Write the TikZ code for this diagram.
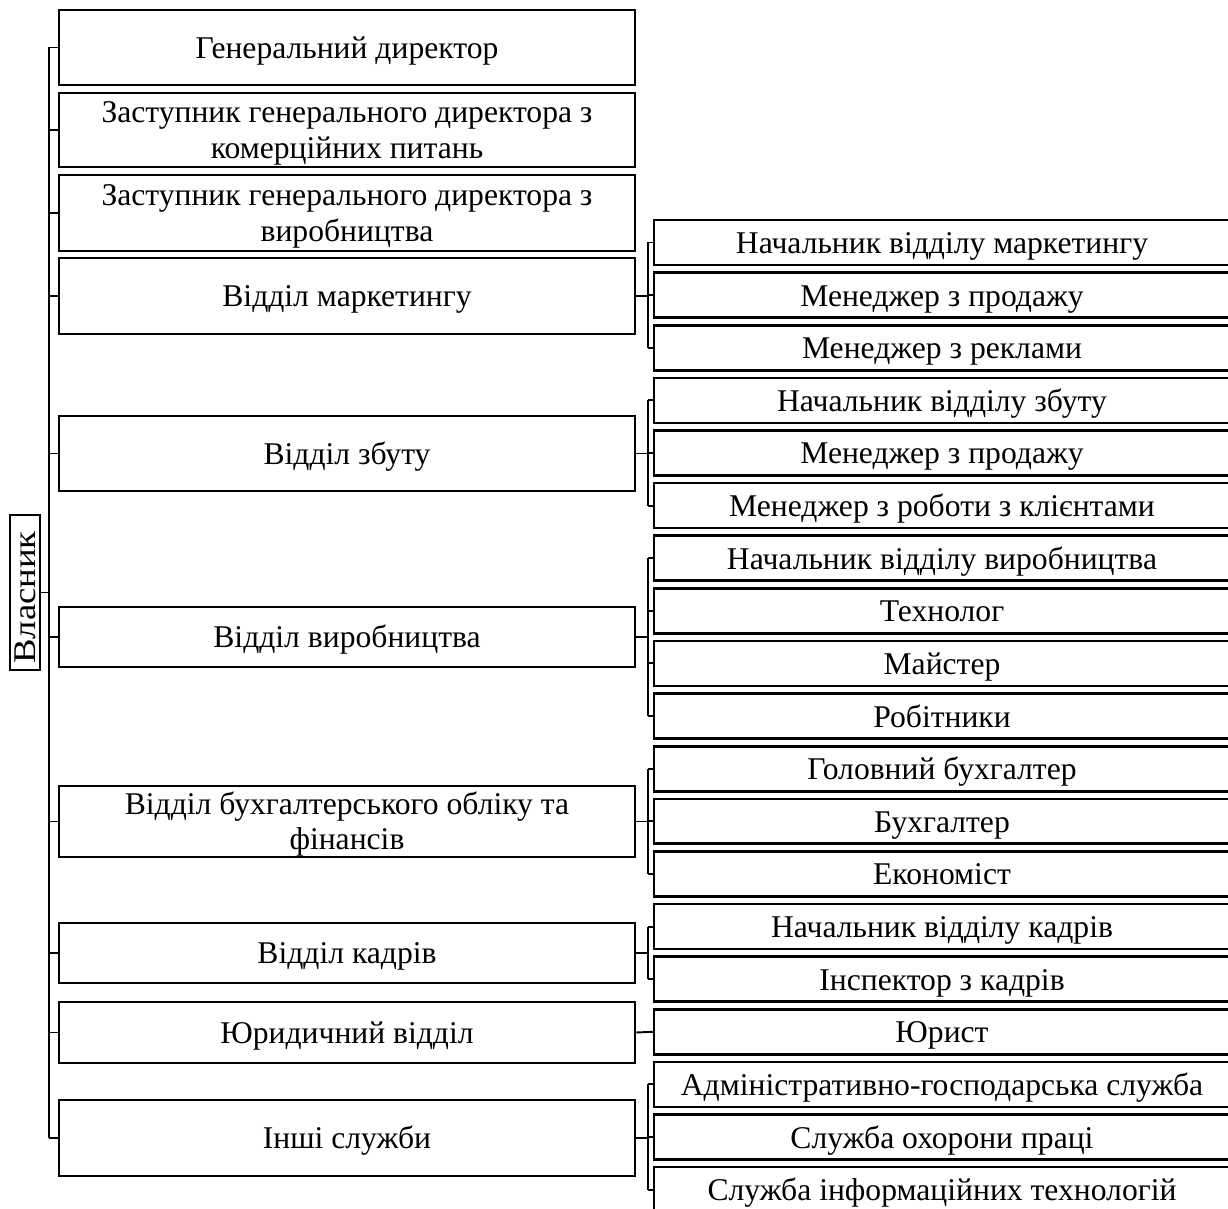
\documentclass[tikz,border=0pt]{standalone}
\usepackage{fontspec}
\setmainfont{Liberation Serif}
\usetikzlibrary{positioning, calc}

\tikzset{
  unit/.style={draw, line width=1.5pt, minimum width=11.52cm, align=center,
    inner sep=2pt, font=\fontsize{18}{20}\selectfont},
  oneline/.style={text height=16.5pt, text depth=4pt},
  twoline/.style={text height=36pt, text depth=4pt, inner ysep=0pt},
  subunit/.style={unit, oneline, minimum height=0.9cm},
  conn/.style={line width=1.1pt},
}

\begin{document}
\begin{tikzpicture}[x=0.02cm, y=-0.02cm]
\useasboundingbox (0,0) rectangle (1228,1209);

% owner
\node[draw, line width=1.2pt, rotate=90, inner sep=1pt, minimum width=3.1cm,
  minimum height=0.6cm, font=\fontsize{18}{20}\selectfont] (vl) at (25,592.5)
  {\hspace*{-0.2cm}\scalebox{1.16}[1]{Власник}};

% top level
\node[unit, oneline, minimum height=1.5cm]  (gd) at (347,47.5)  {Генеральний директор};
\node[unit, twoline, minimum height=1.48cm] (zk) at (347,130)   {Заступник генерального директора з\\комерційних питань};
\node[unit, twoline, minimum height=1.52cm] (zv) at (347,213)   {Заступник генерального директора з\\виробництва};
\node[unit, oneline, minimum height=1.52cm] (dm) at (347,296)   {Відділ маркетингу};
\node[unit, oneline, minimum height=1.5cm]  (dz) at (347,453.5) {Відділ збуту};
\node[unit, oneline, minimum height=1.2cm]  (dv) at (347,637)   {Відділ виробництва};
\node[unit, twoline, minimum height=1.42cm] (db) at (347,821.5) {Відділ бухгалтерського обліку та\\фінансів};
\node[unit, oneline, minimum height=1.2cm]  (dk) at (347,953)   {Відділ кадрів};
\node[unit, oneline, minimum height=1.22cm] (dj) at (347,1032.5) {Юридичний відділ};
\node[unit, oneline, minimum height=1.52cm] (di) at (347,1138)  {Інші служби};

% staff
\foreach \t [count=\i] in {Начальник відділу маркетингу, Менеджер з продажу,
    Менеджер з реклами, Начальник відділу збуту, Менеджер з продажу,
    Менеджер з роботи з клієнтами, Начальник відділу виробництва, Технолог,
    Майстер, Робітники, Головний бухгалтер, Бухгалтер, Економіст,
    Начальник відділу кадрів, Інспектор з кадрів, Юрист,
    Адміністративно-господарська служба, Служба охорони праці,
    Служба інформаційних технологій}
  \node[subunit] (s\i) at (942,{242.5+(\i-1)*52.62}) {\t};

% trunk
\coordinate (ttop) at (49,47.5);
\coordinate (tbot) at (49,1138);
\draw[conn] (ttop) -- (tbot);
\draw[conn] (vl.south) -- (vl.south -| ttop);
\foreach \n in {gd,zk,zv,dm,dz,dv,db,dk,dj,di}
  \draw[conn] (\n.west -| ttop) -- (\n.west);

% brackets
\foreach \d/\a/\b in {dm/1/3, dz/4/6, dv/7/10, db/11/13, dk/14/15, di/17/19} {
  \draw[conn] (\d.east) -- ++(12,0) coordinate (k\d);
  \draw[conn] (k\d |- s\a.west) -- (k\d |- s\b.west);
  \foreach \s in {\a,...,\b}
    \draw[conn] (k\d |- s\s.west) -- (s\s.west);
}
\draw[conn] (dj.east) -- (s16.west);
\end{tikzpicture}
\end{document}
